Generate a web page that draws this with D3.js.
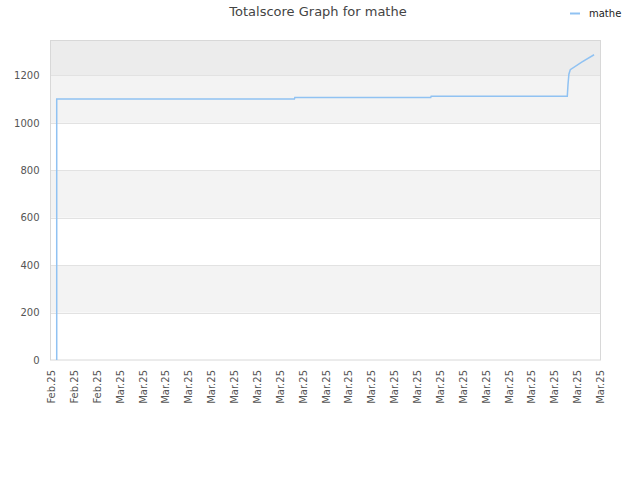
<!DOCTYPE html>
<html>
<head>
    <title>Totalscore Graph for mathe</title>
    <script src="https://d3js.org/d3.v7.min.js"></script>
    <style>
        body { margin: 0; background: #fff; }
        text { font-family: "DejaVu Sans", sans-serif; }
    </style>
</head>
<body>
<svg width="640" height="480"></svg>
<script>
    // x positions are in tick-slot units (0 = first label, 24 = last label)
    const tickLabels = ["Feb.25", "Feb.25", "Feb.25",
        "Mar.25", "Mar.25", "Mar.25", "Mar.25", "Mar.25", "Mar.25", "Mar.25", "Mar.25",
        "Mar.25", "Mar.25", "Mar.25", "Mar.25", "Mar.25", "Mar.25", "Mar.25", "Mar.25",
        "Mar.25", "Mar.25", "Mar.25", "Mar.25", "Mar.25", "Mar.25"];
    const xSlots = [0.25, 0.25, 10.64, 10.66, 16.60, 16.62, 22.57, 22.60, 22.64, 22.70, 23.20, 23.74];
    const scores = [0, 1100, 1100, 1107, 1107, 1112, 1112, 1160, 1205, 1224, 1256, 1287];
    const yTicks = [0, 200, 400, 600, 800, 1000, 1200];
    const yMax = 1347;
    const seriesName = "mathe";

    const plotLeft = 50.5, plotRight = 600.5, plotTop = 40.5, plotBottom = 360;

    const svg = d3.select("svg");

    const x = d3.scaleLinear()
        .domain([0, tickLabels.length - 1])
        .range([51, 600]);

    const y = d3.scaleLinear()
        .domain([0, yMax])
        .range([plotBottom, plotTop]);

    // alternating background bands
    const bandEdges = yTicks.concat([yMax]);
    const bands = d3.pairs(bandEdges);
    svg.append("g").selectAll("rect")
        .data(bands)
        .enter().append("rect")
        .attr("x", plotLeft)
        .attr("width", plotRight - plotLeft)
        .attr("y", d => y(d[1]))
        .attr("height", d => y(d[0]) - y(d[1]))
        .attr("fill", (d, i) => i === bands.length - 1 ? "#ececec" : (i % 2 ? "#f3f3f3" : "#ffffff"));

    // horizontal grid lines
    svg.append("g").selectAll("line")
        .data(yTicks.slice(1))
        .enter().append("line")
        .attr("x1", plotLeft).attr("x2", plotRight)
        .attr("y1", d => Math.round(y(d)) + 0.5)
        .attr("y2", d => Math.round(y(d)) + 0.5)
        .attr("stroke", "#e2e2e2");

    // plot frame
    svg.append("rect")
        .attr("x", plotLeft).attr("y", plotTop)
        .attr("width", plotRight - plotLeft).attr("height", plotBottom - plotTop)
        .attr("fill", "none")
        .attr("stroke", "#d8d8d8");

    // y axis labels
    const yAxis = d3.axisLeft(y)
        .tickValues(yTicks)
        .tickFormat(d3.format("d"))
        .tickSize(0)
        .tickPadding(11);
    svg.append("g")
        .attr("transform", `translate(${plotLeft},0)`)
        .call(yAxis)
        .call(g => g.select(".domain").remove())
        .selectAll("text")
        .attr("font-family", "DejaVu Sans")
        .attr("font-size", 10)
        .attr("fill", "#555");

    // x axis labels, rotated
    const xAxis = d3.axisBottom(x)
        .tickValues(d3.range(tickLabels.length))
        .tickFormat(i => tickLabels[i])
        .tickSize(0);
    svg.append("g")
        .attr("transform", `translate(0,${plotBottom})`)
        .call(xAxis)
        .call(g => g.select(".domain").remove())
        .selectAll("text")
        .attr("font-family", "DejaVu Sans")
        .attr("font-size", 10)
        .attr("fill", "#555")
        .attr("text-anchor", "end")
        .attr("transform", "rotate(-90)")
        .attr("x", -10)
        .attr("y", 0)
        .attr("dy", "0.35em");

    // score line
    const line = d3.line()
        .x((d, i) => x(xSlots[i]))
        .y(d => y(d));

    svg.append("path")
        .datum(scores)
        .attr("d", line)
        .attr("fill", "none")
        .attr("stroke", "#90c2f2")
        .attr("stroke-width", 1.5);

    // title
    svg.append("text")
        .attr("x", 318)
        .attr("y", 16)
        .attr("text-anchor", "middle")
        .attr("font-size", 13)
        .attr("fill", "#444")
        .text("Totalscore Graph for " + seriesName);

    // legend
    svg.append("line")
        .attr("x1", 570).attr("x2", 580)
        .attr("y1", 13.5).attr("y2", 13.5)
        .attr("stroke", "#90c2f2")
        .attr("stroke-width", 2);
    svg.append("text")
        .attr("x", 589)
        .attr("y", 17)
        .attr("font-size", 10)
        .attr("fill", "#222")
        .text(seriesName);
</script>
</body>
</html>
